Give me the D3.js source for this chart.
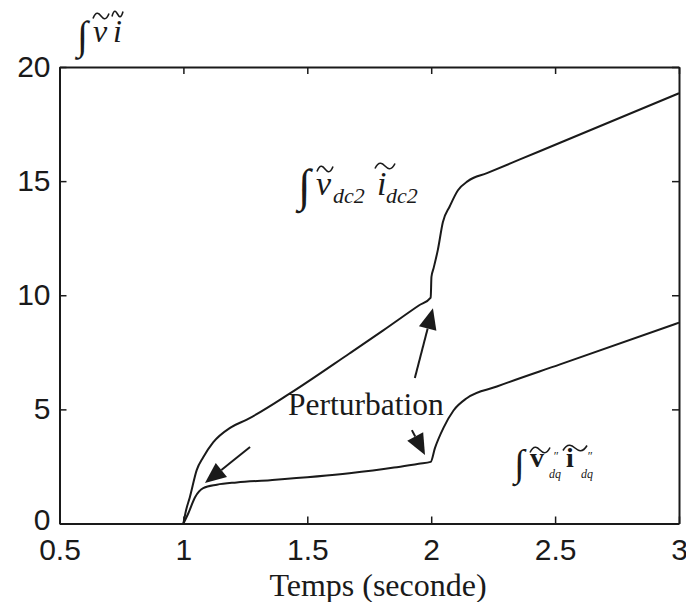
<!DOCTYPE html>
<html>
<head>
  <meta charset="utf-8">
  <title>Integrale</title>
  <script src="https://cdn.jsdelivr.net/npm/d3@7"></script>
  <style>
    html, body { margin: 0; padding: 0; background: #fff; }
    svg text { fill: #1a1a1a; }
    .tick text { font-family: "Liberation Sans", Arial, sans-serif; font-size: 30px; }
  </style>
</head>
<body>
  <svg id="chart" width="686" height="602"></svg>
  <script>
    // time (s) and value for the dc2 curve
    const tDc2 = [1.0, 1.01, 1.026, 1.054, 1.08, 1.12, 1.19, 1.256, 1.43, 1.67, 1.805, 1.95, 1.998,
                  2.001, 2.01, 2.027, 2.047, 2.075, 2.108, 2.148, 2.225, 2.358, 2.52, 3.0]
    const vDc2 = [0, 0.55, 1.15, 2.35, 2.9, 3.55, 4.2, 4.55, 5.7, 7.45, 8.45, 9.55, 9.9,
                  10.8, 11.2, 12.0, 13.2, 13.9, 14.6, 15.0, 15.35, 15.95, 16.68, 18.85]
    // time (s) and value for the dq curve
    const tDq = [1.0, 1.02, 1.047, 1.08, 1.135, 1.215, 1.35, 1.67, 1.85, 1.95, 1.998,
                 2.015, 2.05, 2.09, 2.145, 2.265, 2.52, 3.0]
    const vDq = [0, 0.45, 1.15, 1.55, 1.7, 1.8, 1.9, 2.2, 2.45, 2.62, 2.7,
                 3.3, 4.2, 4.95, 5.5, 6.0, 6.97, 8.8]

    const xTicks = [0.5, 1, 1.5, 2, 2.5, 3]
    const yTicks = [0, 5, 10, 15, 20]

    // arrows: [fromT, fromV, tipT, tipV]
    const arrows = [
      [1.269, 3.35, 1.087, 1.77],
      [1.922, 4.09, 1.975, 3.0],
      [1.934, 6.37, 2.007, 9.43]
    ]

    const svg = d3.select('#chart')
    const x = d3.scaleLinear().domain([0.5, 3]).range([59.5, 679])
    const y = d3.scaleLinear().domain([0, 20]).range([523.5, 67])
    const ink = '#1a1a1a'
    const serif = '"Liberation Serif", "Times New Roman", Times, serif'

    const axes = [
      [d3.axisBottom(x).tickValues(xTicks).tickFormat(d3.format('')).tickPadding(15), y(0)],
      [d3.axisTop(x).tickValues(xTicks).tickFormat(''), y(20)],
      [d3.axisLeft(y).tickValues(yTicks).tickPadding(9), x(0.5)],
      [d3.axisRight(y).tickValues(yTicks).tickFormat(''), x(3)]
    ]
    axes.forEach(([ax, pos], i) => {
      const g = svg.append('g')
        .attr('transform', i < 2 ? `translate(0,${pos})` : `translate(${pos},0)`)
        .call(ax.tickSizeInner(-7).tickSizeOuter(0))
      g.select('.domain').attr('stroke', ink).attr('stroke-width', 2)
      g.selectAll('.tick line').attr('stroke', ink).attr('stroke-width', 1.5)
      g.selectAll('.tick text').attr('fill', ink)
    })
    svg.selectAll('.tick text').filter(function () { return this.textContent === '' }).remove()
    // the reference sets the zero label a little above its tick
    svg.selectAll('.tick text').filter(function () { return this.textContent === '0' }).attr('dy', '0.2em')

    const line = d3.line().x(d => x(d[0])).y(d => y(d[1])).curve(d3.curveMonotoneX)
    const curves = [d3.zip(tDc2, vDc2), d3.zip(tDq, vDq)]
    svg.selectAll('path.curve').data(curves).join('path')
      .attr('class', 'curve')
      .attr('fill', 'none')
      .attr('stroke', ink)
      .attr('stroke-width', 2)
      .attr('d', line)

    // arrows with filled heads
    arrows.forEach(([t0, v0, t1, v1]) => {
      const x0 = x(t0), y0 = y(v0), x1 = x(t1), y1 = y(v1)
      const a = Math.atan2(y1 - y0, x1 - x0)
      const len = 21, half = 9
      const bx = x1 - len * Math.cos(a), by = y1 - len * Math.sin(a)
      svg.append('line')
        .attr('x1', x0).attr('y1', y0).attr('x2', bx).attr('y2', by)
        .attr('stroke', ink).attr('stroke-width', 2)
      svg.append('path')
        .attr('fill', ink)
        .attr('d', `M${x1},${y1}L${bx - half * Math.sin(a)},${by + half * Math.cos(a)}L${bx + half * Math.sin(a)},${by - half * Math.cos(a)}Z`)
    })

    // text helper
    const txt = (s, px, py, size, opts = {}) => svg.append('text')
      .attr('font-family', serif)
      .attr('x', px).attr('y', py)
      .attr('font-size', size)
      .attr('font-style', opts.italic ? 'italic' : null)
      .attr('font-weight', opts.bold ? 'bold' : null)
      .attr('text-anchor', opts.anchor || null)
      .text(s)

    // wavy tilde accent drawn from x0 to x0+w around height cy
    const tilde = (x0, cy, w, h, sw) => svg.append('path')
      .attr('fill', 'none').attr('stroke', ink).attr('stroke-width', sw || 1.6)
      .attr('d', `M${x0},${cy + h / 2}C${x0 + w * 0.2},${cy - h * 1.2} ${x0 + w * 0.4},${cy - h * 0.4} ${x0 + w / 2},${cy}S${x0 + w * 0.8},${cy + h * 1.2} ${x0 + w},${cy - h / 2}`)

    // x label
    txt('Temps (seconde)', 378, 596, 32, { anchor: 'middle' })
    // annotation
    txt('Perturbation', 288, 415, 31.5)

    // y label: integral v~ i~
    txt('\u222B', 77, 49, 40)
    txt('v', 93, 42, 32, { italic: true })
    tilde(93, 16, 16, 5)
    txt('i', 113, 42, 32, { italic: true })
    tilde(112, 14, 11, 5)

    // label dc2
    txt('\u222B', 298, 201, 46)
    txt('v', 316, 195, 34, { italic: true })
    tilde(317, 169, 16, 5)
    txt('dc2', 333, 203, 22, { italic: true })
    txt('i', 377, 195, 34, { italic: true })
    tilde(375, 166, 20, 5)
    txt('dc2', 386, 203, 22, { italic: true })

    // label dq
    txt('\u222B', 514, 476, 38)
    txt('v', 530, 467, 28, { bold: true })
    tilde(530, 450, 20, 5)
    txt('\u2033', 553, 460, 12, { italic: true })
    txt('dq', 549, 478, 12, { italic: true })
    txt('i', 566, 467, 28, { bold: true })
    tilde(563, 448, 24, 5)
    txt('\u2033', 587, 460, 12, { italic: true })
    txt('dq', 581, 478, 12, { italic: true })
  </script>
</body>
</html>
